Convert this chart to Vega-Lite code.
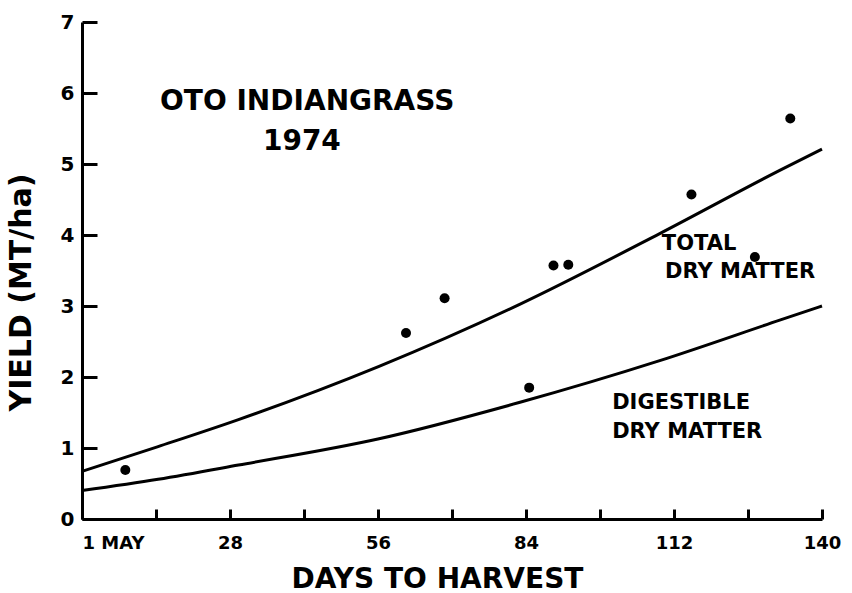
{
  "$schema": "https://vega.github.io/schema/vega-lite/v6.json",
  "width": 740,
  "height": 497,
  "autosize": "none",
  "padding": {"left": 82, "top": 22, "right": 30, "bottom": 74},
  "background": "white",
  "config": {
    "view": {"stroke": null},
    "font": "DejaVu Sans",
    "axis": {"grid": false, "domainColor": "black", "domainWidth": 3, "tickColor": "black", "tickWidth": 3, "labelColor": "black", "titleColor": "black", "labelFont": "DejaVu Sans", "titleFont": "DejaVu Sans", "labelFontWeight": "bold", "titleFontWeight": "bold"}
  },
  "datasets": {
    "curves": [
      {"series": "Total dry matter", "day": 0, "yield": 0.67},
      {"series": "Total dry matter", "day": 14.4, "yield": 1.02},
      {"series": "Total dry matter", "day": 29.6, "yield": 1.4},
      {"series": "Total dry matter", "day": 56.2, "yield": 2.15},
      {"series": "Total dry matter", "day": 82.7, "yield": 3.02},
      {"series": "Total dry matter", "day": 109.3, "yield": 4.02},
      {"series": "Total dry matter", "day": 132, "yield": 4.91},
      {"series": "Total dry matter", "day": 140, "yield": 5.21},
      {"series": "Digestible dry matter", "day": 0, "yield": 0.4},
      {"series": "Digestible dry matter", "day": 14.4, "yield": 0.56},
      {"series": "Digestible dry matter", "day": 29.6, "yield": 0.76},
      {"series": "Digestible dry matter", "day": 56.2, "yield": 1.13},
      {"series": "Digestible dry matter", "day": 82.7, "yield": 1.64},
      {"series": "Digestible dry matter", "day": 109.3, "yield": 2.23},
      {"series": "Digestible dry matter", "day": 132, "yield": 2.8},
      {"series": "Digestible dry matter", "day": 140, "yield": 3.0}
    ],
    "points": [
      {"day": 8.2, "yield": 0.69},
      {"day": 61.3, "yield": 2.62},
      {"day": 68.6, "yield": 3.11},
      {"day": 84.6, "yield": 1.85},
      {"day": 89.2, "yield": 3.57},
      {"day": 92.0, "yield": 3.58},
      {"day": 115.3, "yield": 4.57},
      {"day": 127.3, "yield": 3.69},
      {"day": 134.0, "yield": 5.64}
    ],
    "titles": [
      {"label": "OTO INDIANGRASS", "day": 42.6, "yield": 5.87},
      {"label": "1974", "day": 41.6, "yield": 5.31}
    ],
    "notes": [
      {"label": "TOTAL", "day": 109.7, "yield": 3.87},
      {"label": "DRY MATTER", "day": 110.3, "yield": 3.48},
      {"label": "DIGESTIBLE", "day": 100.3, "yield": 1.63},
      {"label": "DRY MATTER", "day": 100.3, "yield": 1.23}
    ]
  },
  "layer": [
    {
      "data": {"name": "curves"},
      "mark": {"type": "line", "color": "black", "strokeWidth": 3, "interpolate": "monotone"},
      "encoding": {
        "x": {
          "field": "day", "type": "quantitative",
          "scale": {"domain": [0, 140], "nice": false, "zero": false},
          "axis": {
            "values": [0, 14, 28, 42, 56, 70, 84, 98, 112, 126, 140],
            "labelExpr": "datum.value == 0 ? '1 MAY' : (datum.value % 28 == 0 ? datum.label : '')",
            "labelAlign": {"expr": "datum.value == 0 ? 'left' : 'center'"},
            "tickSize": -10,
            "labelFontSize": 18,
            "labelPadding": 25,
            "title": "DAYS TO HARVEST",
            "titleFontSize": 28,
            "titlePadding": 13,
            "titleX": 355
          }
        },
        "y": {
          "field": "yield", "type": "quantitative",
          "scale": {"domain": [0, 7], "nice": false},
          "axis": {
            "values": [0, 1, 2, 3, 4, 5, 6, 7],
            "format": "d",
            "tickSize": -15,
            "labelFontSize": 20,
            "labelPadding": 23,
            "title": "YIELD (MT/ha)",
            "titleFontSize": 30,
            "titlePadding": 24,
            "titleY": 270
          }
        },
        "detail": {"field": "series"}
      }
    },
    {
      "data": {"name": "points"},
      "mark": {"type": "circle", "color": "black", "size": 100, "opacity": 1},
      "encoding": {
        "x": {"field": "day", "type": "quantitative"},
        "y": {"field": "yield", "type": "quantitative"}
      }
    },
    {
      "data": {"name": "titles"},
      "mark": {"type": "text", "font": "DejaVu Sans", "fontWeight": "bold", "fontSize": 28, "align": "center", "baseline": "middle", "color": "black"},
      "encoding": {
        "x": {"field": "day", "type": "quantitative"},
        "y": {"field": "yield", "type": "quantitative"},
        "text": {"field": "label"}
      }
    },
    {
      "data": {"name": "notes"},
      "mark": {"type": "text", "font": "DejaVu Sans", "fontWeight": "bold", "fontSize": 21, "align": "left", "baseline": "middle", "color": "black"},
      "encoding": {
        "x": {"field": "day", "type": "quantitative"},
        "y": {"field": "yield", "type": "quantitative"},
        "text": {"field": "label"}
      }
    }
  ]
}
